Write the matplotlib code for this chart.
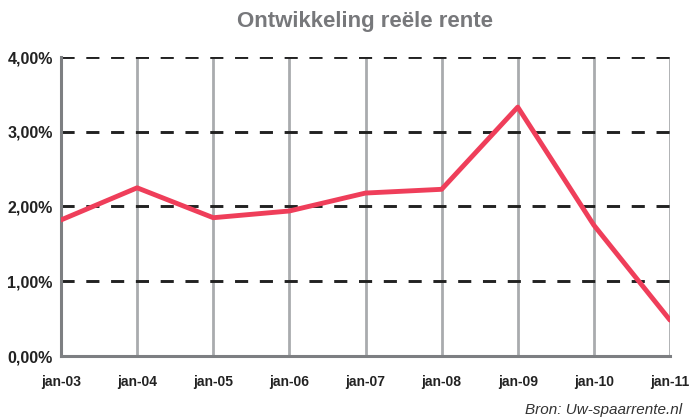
import matplotlib.pyplot as plt
from matplotlib import font_manager

names = {f.name for f in font_manager.fontManager.ttflist}
fam = 'Liberation Sans Narrow' if 'Liberation Sans Narrow' in names else 'Liberation Sans'
plt.rcParams['font.family'] = [fam, 'DejaVu Sans']

labels = ['jan-03', 'jan-04', 'jan-05', 'jan-06', 'jan-07', 'jan-08', 'jan-09', 'jan-10', 'jan-11']
rente = [1.82, 2.25, 1.85, 1.94, 2.18, 2.23, 3.33, 1.75, 0.48]
yticks = [0, 1, 2, 3, 4]
ylabels = ['0,00%', '1,00%', '2,00%', '3,00%', '4,00%']

fig = plt.figure(figsize=(6.9, 4.19), dpi=100)
ax = fig.add_axes([61/690, 1-356/419, (670-61)/690, (356-57)/419])

x = list(range(len(labels)))
for xi in x[1:]:
    ax.axvline(xi, color='#a9abae', lw=2, zorder=1)
for yv in yticks[1:]:
    ax.axhline(yv, color='#222222', lw=2.1, ls=(0, (4.5, 4)), zorder=2)

ax.plot(x, rente, color='#ef3e5a', lw=3.5, solid_capstyle='round', zorder=3)

ax.set_xlim(0, len(labels) - 1)
ax.set_ylim(0, 4)
ax.set_xticks(x)
ax.set_xticklabels(labels, fontsize=10, fontweight='bold', color='#222222')
ax.set_yticks(yticks)
ax.set_yticklabels(ylabels, fontsize=11.5, fontweight='bold', color='#222222')
ax.tick_params(length=0)
ax.tick_params(axis='y', pad=6)
ax.tick_params(axis='x', pad=14)

for s in ['top', 'right']:
    ax.spines[s].set_visible(False)
for s in ['left', 'bottom']:
    ax.spines[s].set_color('#7d7f82')
    ax.spines[s].set_linewidth(2.2)

fig.text(365/690, 1-22/419, 'Ontwikkeling reële rente', ha='center', va='center',
         fontsize=16, fontweight='bold', color='#77787b')
fig.text(682/690, 1-410/419, 'Bron: Uw-spaarrente.nl', ha='right', va='center',
         fontsize=11, style='italic', color='#333333')

fig.savefig('out.png', dpi=100)
